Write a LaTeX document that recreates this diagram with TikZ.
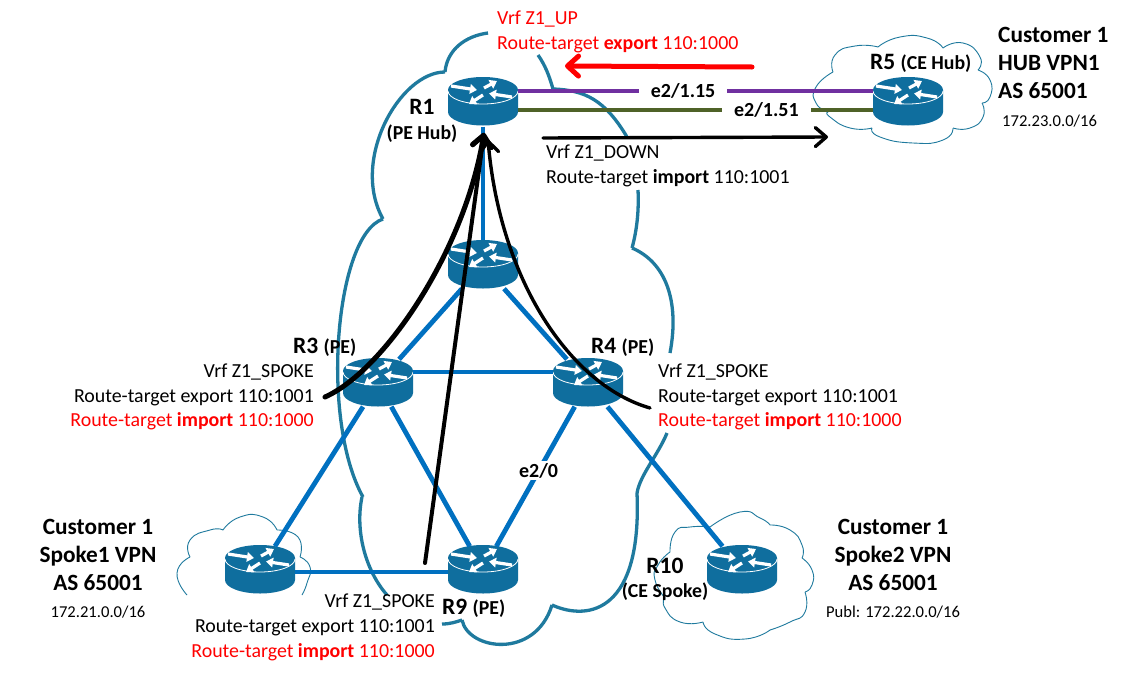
\documentclass[tikz,border=0pt]{standalone}
\usepackage{fontspec}
\setmainfont{Carlito}
\usetikzlibrary{arrows.meta}
\definecolor{routerblue}{HTML}{0F6E9E}
\definecolor{cloudteal}{HTML}{1F7A9E}
\definecolor{linkblue}{HTML}{0070C0}
\definecolor{linkpurple}{HTML}{7030A0}
\definecolor{linkgreen}{HTML}{4F6228}
\definecolor{vrfred}{HTML}{FF0000}
\newcommand{\routerat}[3]{%
  \node[routerbox] (#1) at (#2,#3) {};
  \begin{scope}[shift={(#1.center)}]
    \fill[routerblue] (-35,-12) -- (-35,10) arc[x radius=35,y radius=13.5,start angle=180,end angle=0] -- (35,-12) arc[x radius=35,y radius=13,start angle=0,end angle=-180] -- cycle;
    \draw[white,line width=0.8pt] (-35,-11) arc[x radius=35,y radius=13,start angle=180,end angle=0];
    \draw[routerarrow] (-32,-16) -- (-6,-12);
    \draw[routerarrow] (1,-14) -- (14,-21);
    \draw[routerarrow] (29,-5) -- (6,-8.5);
    \draw[routerarrow] (0,-7) -- (-14,2);
  \end{scope}}
\tikzset{
  routerbox/.style={rectangle,inner sep=0pt,minimum width=70pt,minimum height=47pt},
  routerarrow/.style={white,line width=3.2pt,-{Triangle[length=7pt,width=9.5pt]}},
  bigcloud/.style={cloudteal,line width=3.3pt,line join=round},
  smallcloud/.style={cloudteal,line width=0.9pt,line join=round},
  lobe/.style={smooth,tension=1},
  link/.style={linkblue,line width=4.8pt},
  vlan/.style={line width=3.4pt},
  ifl/.style={fill=white,text=black,inner ysep=2pt,inner xsep=12pt,font=\fontsize{20}{22}\selectfont\bfseries},
  vrf/.style={inner sep=0pt,font=\fontsize{19.9}{24.8}\selectfont},
  rname/.style={inner sep=0pt,font=\fontsize{23.5}{26}\selectfont\bfseries},
  rsub/.style={inner sep=0pt,font=\fontsize{19.8}{22}\selectfont\bfseries},
  cust/.style={inner sep=0pt,align=center,font=\fontsize{23.3}{28}\selectfont\bfseries},
  net/.style={inner sep=0pt,font=\fontsize{16.6}{18}\selectfont},
  flow/.style={black,line cap=round,-{Straight Barb[length=11pt,width=19pt,round]}},
}
\newcommand{\namesub}[2]{{\fontsize{23.5}{26}\selectfont\bfseries #1 \fontsize{19.8}{22}\selectfont #2}}
\begin{document}
\begin{tikzpicture}[x=1pt,y=-1pt]
\path[use as bounding box,fill=white] (0,0) rectangle (1121,672);

% provider cloud
\draw[bigcloud] (488,33) .. controls (465,36) and (447,50) .. (445,72);
\draw[bigcloud] (445,72) .. controls (400,72) and (350,160) .. (383,219);
\draw[bigcloud] (383,219) .. controls (335,235) and (320,420) .. (363,497);
\draw[bigcloud] (362,497) .. controls (355,530) and (365,570) .. (387,595);
\draw[bigcloud] (442,624) .. controls (450,624) and (456,622) .. (462,620);
\draw[bigcloud] (462,620) .. controls (468,650) and (535,660) .. (552,605);
\draw[bigcloud] (552,605) .. controls (590,622) and (642,610) .. (637,493);
\draw[bigcloud] (637,493) .. controls (640,475) and (658,455) .. (667,433);
\draw[bigcloud] (670,353) .. controls (680,300) and (665,262) .. (632,248);
\draw[bigcloud] (632,248) .. controls (637,230) and (639,210) .. (638,190);
\draw[bigcloud] (627,137) .. controls (605,100) and (585,90) .. (553,89);
\draw[bigcloud] (553,89) .. controls (549,75) and (545,65) .. (538,55);

% customer clouds
\draw[smallcloud] plot[lobe] coordinates {(833,72) (835,55) (855,46) (878,47)};
\draw[smallcloud] plot[lobe] coordinates {(878,47) (900,37) (927,38) (943,48)};
\draw[smallcloud] plot[lobe] coordinates {(943,48) (963,43) (980,57) (978,70)};
\draw[smallcloud] plot[lobe] coordinates {(978,70) (990,80) (990,97) (982,103)};
\draw[smallcloud] plot[lobe] coordinates {(982,103) (983,117) (970,128) (953,128)};
\draw[smallcloud] plot[lobe] coordinates {(953,128) (943,140) (913,143) (880,137) (872,128)};
\draw[smallcloud] plot[lobe] coordinates {(872,128) (850,128) (830,117) (828,112)};
\draw[smallcloud] plot[lobe] coordinates {(828,112) (816,103) (816,87) (833,72)};

\draw[smallcloud] plot[lobe] coordinates {(670,552) (675,532) (690,527) (710,527)};
\draw[smallcloud] plot[lobe] coordinates {(710,527) (740,512) (760,518) (770,525)};
\draw[smallcloud] plot[lobe] coordinates {(770,525) (790,530) (802,545) (802,558)};
\draw[smallcloud] plot[lobe] coordinates {(802,558) (812,570) (812,585) (805,592)};
\draw[smallcloud] plot[lobe] coordinates {(805,592) (805,612) (790,622) (770,630)};
\draw[smallcloud] plot[lobe] coordinates {(770,630) (745,639) (715,634) (703,622)};
\draw[smallcloud] plot[lobe] coordinates {(703,622) (680,622) (665,608) (665,598)};
\draw[smallcloud] plot[lobe] coordinates {(665,598) (655,580) (658,565) (670,552)};

\draw[smallcloud] plot[lobe] coordinates {(187,595) (177,573) (190,557)};
\draw[smallcloud] plot[lobe] coordinates {(190,557) (190,540) (210,530) (223,530)};
\draw[smallcloud] plot[lobe] coordinates {(223,530) (240,517) (263,517) (277,530)};
\draw[smallcloud] plot[lobe] coordinates {(277,530) (298,537) (300,557)};
\draw[smallcloud] plot[lobe] coordinates {(300,557) (310,567) (307,583) (302,595)};

% routers
\routerat{R1}{483}{102}
\routerat{R2}{483}{265}
\routerat{R3}{378}{383}
\routerat{R4}{588}{383}
\routerat{R9}{483}{570}
\routerat{R6}{260}{570}
\routerat{R10}{742}{570}
\routerat{R5}{908}{102}

% links
\draw[link] ([yshift=-1pt]R1.south) -- ([yshift=1pt]R2.north);
\draw[link] (R2) -- (R3);
\draw[link] (R2) -- (R4);
\draw[link] ([yshift=11pt]R3.east) -- ([yshift=11pt]R4.west);
\draw[link] (R3) -- (R6);
\draw[link] (R3) -- (R9);
\draw[link] (R4) -- (R10);
\draw[link] ([yshift=-2pt]R6.east) -- ([yshift=-2pt]R9.west);
\draw[link] (R4) -- node[ifl,pos=0.46,inner xsep=2pt]{e2/0} (R9);

\draw[linkpurple,vlan] ([yshift=11pt]R1.east) -- node[ifl,pos=0.465]{e2/1.15} ([yshift=11pt]R5.west);
\draw[linkgreen,vlan] ([yshift=-8pt]R1.east) -- node[ifl,pos=0.70]{e2/1.51} ([yshift=-8pt]R5.west);

% text
\node[rname] (lR1) at (422,107) {R1};
\node[rsub] (lR1s) at (422,134) {(PE Hub)};
\node[inner sep=0pt,anchor=west] (lR5) at (870,63) {\namesub{R5}{(CE Hub)}};
\node[inner sep=0pt,anchor=west] (lR3) at (293,347) {\namesub{R3}{(PE)}};
\node[inner sep=0pt,anchor=west] (lR4) at (591,347) {\namesub{R4}{(PE)}};
\node[inner sep=0pt,anchor=west] (lR9) at (442,608) {\namesub{R9}{(PE)}};
\node[rname] (lR10) at (665,566) {R10};
\node[rsub] (lR10s) at (665,592) {(CE Spoke)};

\node[vrf,text=vrfred,anchor=west,align=left] (vUp) at (497,31.5) {Vrf Z1\_UP\\Route-target \textbf{export} 110:1000};
\node[vrf,anchor=west,align=left] (vDown) at (546,165.5) {Vrf Z1\_DOWN\\Route-target \textbf{import} 110:1001};
\node[vrf,anchor=east,align=right] (vR3) at (314,397) {Vrf Z1\_SPOKE\\Route-target export 110:1001\\\textcolor{vrfred}{Route-target \textbf{import} 110:1000}};
\node[vrf,anchor=west,align=left] (vR4) at (658,397) {Vrf Z1\_SPOKE\\Route-target export 110:1001\\\textcolor{vrfred}{Route-target \textbf{import} 110:1000}};
\node[vrf,anchor=east,align=right] (vR9) at (435,627.5) {Vrf Z1\_SPOKE\\Route-target export 110:1001\\\textcolor{vrfred}{Route-target \textbf{import} 110:1000}};

\node[cust,anchor=west,align=left] (cHub) at (998,63) {Customer 1\\HUB VPN1\\AS 65001};
\node[net,anchor=west] (nHub) at (1002,121) {172.23.0.0/16};
\node[cust] (cS1) at (98,555) {Customer 1\\Spoke1 VPN\\AS 65001};
\node[net] (nS1) at (98,612) {172.21.0.0/16};
\node[cust] (cS2) at (893,555) {Customer 1\\Spoke2 VPN\\AS 65001};
\node[net] (nS2) at (893,612) {Publ: 172.22.0.0/16};

% route flows
\coordinate (redFrom) at (752,67);
\coordinate (redTo) at (565,66);
\draw[vrfred,line cap=round,line width=5pt,-{Straight Barb[length=11pt,width=20pt,round]}] (redFrom) -- (redTo);
\coordinate (blackFrom) at (543,138);
\coordinate (blackTo) at (828,137);
\draw[flow,line width=3.4pt] (blackFrom) -- (blackTo);
\coordinate (fromR3) at (325,397);
\coordinate (fromR4) at (650,408);
\coordinate (fromR9) at (425,563);
\draw[flow,line width=5pt] (fromR3) .. controls (385,370) and (465,250) .. ([yshift=-7pt,xshift=1pt]R1.south);
\draw[flow,line width=3.4pt] (fromR4) .. controls (570,385) and (500,280) .. ([yshift=-14pt,xshift=5pt]R1.south);
\draw[flow,line width=4pt] (fromR9) -- ([yshift=-8pt,xshift=1pt]R1.south);
\end{tikzpicture}
\end{document}
